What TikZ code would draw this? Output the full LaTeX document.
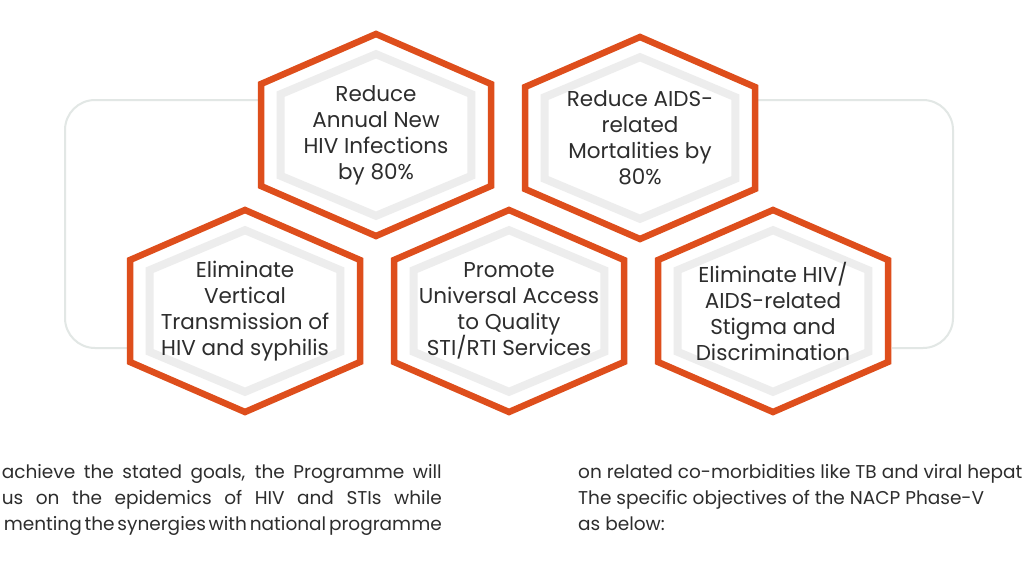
\documentclass[tikz,border=0pt]{standalone}
\usepackage{fontspec}
\setmainfont{Poppins}
\usetikzlibrary{calc}
\definecolor{hexorange}{RGB}{222,78,28}
\definecolor{framegray}{RGB}{226,231,229}
\definecolor{inkgray}{RGB}{45,45,45}
\tikzset{
  hexrim/.style={draw=hexorange, line width=6.5pt, fill=white},
  hexshade/.style={draw=black!7, line width=8pt, fill=white},
  goaltext/.style={align=center, text=inkgray, font=\fontsize{21.5}{26}\selectfont},
  bodytext/.style={text=inkgray, font=\fontsize{18.5}{26}\selectfont, inner sep=0pt},
  bracket/.style={draw=framegray, line width=2pt, rounded corners=30pt},
}
\def\hexcell(#1,#2)#3#4{
  \draw[hexrim] ({#1},{#2-101}) -- ({#1+115},{#2-51}) -- ({#1+115},{#2+51}) -- ({#1},{#2+101}) -- ({#1-115},{#2+51}) -- ({#1-115},{#2-51}) -- cycle;
  \draw[hexshade, shift={(#1,#2)}, xscale=0.83, yscale=0.8] (0,-101) -- (115,-51) -- (115,51) -- (0,101) -- (-115,51) -- (-115,-51) -- cycle;
  \node[goaltext] (#3) at (#1,#2) {#4};
}

\begin{document}
\begin{tikzpicture}[x=1pt, y=-1pt]
  \useasboundingbox (0,0) rectangle (1024,576);
  \clip (0,0) rectangle (1024,576);
  \fill[white] (0,0) rectangle (1024,576);

  \draw[bracket] (258,100) -- (65,100) -- (65,348) -- (127,348);
  \draw[bracket] (757,100) -- (953,100) -- (953,348) -- (892,348);

  \hexcell(376,135){newinf}{Reduce\\Annual New\\HIV Infections\\by 80\%}
  \hexcell(640,138){mortality}{Reduce AIDS-\\related\\Mortalities by\\80\%}
  \hexcell(245,311){vertical}{Eliminate\\Vertical\\Transmission of\\HIV and syphilis}
  \hexcell(509,311){access}{Promote\\Universal Access\\to Quality\\STI/RTI Services}
  \hexcell(773,311){stigma}{Eliminate HIV/\\AIDS-related\\Stigma and\\Discrimination}

  \node[bodytext, align=right, anchor=north east] (leftpara) at (442,464)
    {\hbox to 440pt{achieve the stated goals, the Programme will}\\
     \hbox to 440pt{us on the epidemics of HIV and STIs while}\\
     \hbox to 438pt{\spaceskip=0.22em plus 0.1em minus 0.1em menting the synergies with national programme}};
  \node[bodytext, align=left, anchor=north west] (rightpara) at (578,464)
    {on related co-morbidities like TB and viral hepat\\
     The specific objectives of the NACP Phase-V\\
     as below:};
\end{tikzpicture}
\end{document}
